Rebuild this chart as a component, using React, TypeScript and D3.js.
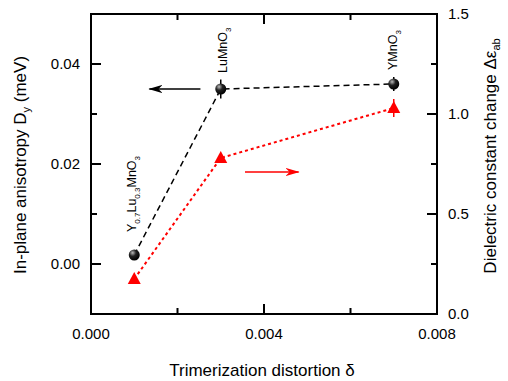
import React from "react";
import { scaleLinear, line } from "d3";

// data
const distortion = [0.001, 0.003, 0.007];
const anisotropy = [0.0018, 0.035, 0.036];
const anisotropyErr = [0, 0.0019, 0.0014];
const dielectric = [0.175, 0.78, 1.03];
const dielectricErr = [0, 0, 0.045];
const compounds = ["Y0.7Lu0.3MnO3", "LuMnO3", "YMnO3"];

const xTicks = [0, 0.004, 0.008];
const xMinor = [0.002, 0.006];
const yLeftTicks = [0, 0.02, 0.04];
const yLeftMinor = [-0.01, 0.01, 0.03, 0.05];
const yRightTicks = [0, 0.5, 1.0, 1.5];
const yRightMinor = [0.25, 0.75, 1.25];

const W = 508;
const H = 381;
const L = 91, R = 437, T = 14, B = 314;
const FONT = "Liberation Sans, Arial, sans-serif";

function Label({ name, x, y }) {
  // compound labels, rotated, with subscripts
  const parts = name.match(/[A-Za-z]+|[0-9.]+/g);
  return (
    <text transform={`translate(${x},${y}) rotate(-90)`} fontSize={12.5} fontFamily={FONT}>
      {parts.map((p, i) =>
        /[0-9]/.test(p) ? (
          <tspan key={i} fontSize={8} dy={4}>{p}</tspan>
        ) : (
          <tspan key={i} dy={i > 0 ? -4 : 0}>{p}</tspan>
        )
      )}
    </text>
  );
}

export default function App() {
  const x = scaleLinear().domain([0, 0.008]).range([L, R]);
  const yL = scaleLinear().domain([-0.01, 0.05]).range([B, T]);
  const yR = scaleLinear().domain([0, 1.5]).range([B, T]);

  const blackLine = line<number>().x((d, i) => x(distortion[i])).y(d => yL(d));
  const redLine = line<number>().x((d, i) => x(distortion[i])).y(d => yR(d));

  const tri = (cx, cy) => `M${cx},${cy - 7}L${cx + 6.5},${cy + 5}L${cx - 6.5},${cy + 5}Z`;

  const labelGap = [23, 16, 14];
  const labelShift = [2, 6, 3];

  return (
    <svg width={W} height={H} style={{ position: "absolute", left: 0, top: 0 }}>
      <defs>
        <radialGradient id="ball" cx="0.35" cy="0.3" r="0.7">
          <stop offset="0" stopColor="#bbb" />
          <stop offset="0.45" stopColor="#222" />
          <stop offset="1" stopColor="#000" />
        </radialGradient>
        <marker id="headK" viewBox="0 0 14 8" refX="13" refY="4" markerWidth="14" markerHeight="8" markerUnits="userSpaceOnUse" orient="auto">
          <path d="M14,4L0,0L4,4L0,8Z" fill="#000" />
        </marker>
        <marker id="headR" viewBox="0 0 14 8" refX="13" refY="4" markerWidth="14" markerHeight="8" markerUnits="userSpaceOnUse" orient="auto">
          <path d="M14,4L0,0L4,4L0,8Z" fill="#f00" />
        </marker>
      </defs>

      {/* lines */}
      <path d={blackLine(anisotropy)} fill="none" stroke="#000" strokeWidth={1.5} strokeDasharray="6,4" />
      <path d={redLine(dielectric)} fill="none" stroke="#f00" strokeWidth={2} strokeDasharray="3,3" />

      {/* error bars */}
      {anisotropy.map((v, i) =>
        anisotropyErr[i] > 0 ? (
          <line key={"ea" + i} x1={x(distortion[i])} x2={x(distortion[i])} y1={yL(v - anisotropyErr[i])} y2={yL(v + anisotropyErr[i])} stroke="#000" strokeWidth={1.5} />
        ) : null
      )}
      {dielectric.map((v, i) =>
        dielectricErr[i] > 0 ? (
          <line key={"ed" + i} x1={x(distortion[i])} x2={x(distortion[i])} y1={yR(v - dielectricErr[i])} y2={yR(v + dielectricErr[i])} stroke="#f00" strokeWidth={1.5} />
        ) : null
      )}

      {/* markers */}
      {anisotropy.map((v, i) => (
        <circle key={"c" + i} cx={x(distortion[i])} cy={yL(v)} r={5.5} fill="url(#ball)" />
      ))}
      {dielectric.map((v, i) => (
        <path key={"t" + i} d={tri(x(distortion[i]), yR(v))} fill="#f00" />
      ))}

      {/* arrows */}
      <line x1={x(0.00253)} x2={x(0.00135)} y1={yL(0.035)} y2={yL(0.035)} stroke="#000" strokeWidth={1.5} markerEnd="url(#headK)" />
      <line x1={x(0.00356)} x2={x(0.0048)} y1={yR(0.71)} y2={yR(0.71)} stroke="#f00" strokeWidth={1.5} markerEnd="url(#headR)" />

      {/* compound labels */}
      {compounds.map((c, i) => (
        <Label key={c} name={c} x={x(distortion[i]) + labelShift[i]} y={yL(anisotropy[i]) - labelGap[i]} />
      ))}

      {/* frame */}
      <rect x={L} y={T} width={R - L} height={B - T} fill="none" stroke="#000" strokeWidth={2} />

      {/* x ticks */}
      {xTicks.map(t => (
        <g key={"x" + t}>
          <line x1={x(t)} x2={x(t)} y1={B} y2={B - 10} stroke="#000" strokeWidth={2} />
          <line x1={x(t)} x2={x(t)} y1={T} y2={T + 10} stroke="#000" strokeWidth={2} />
          <text x={x(t)} y={339} textAnchor="middle" fontSize={15} fontFamily={FONT}>{t.toFixed(3)}</text>
        </g>
      ))}
      {xMinor.map(t => (
        <g key={"xm" + t}>
          <line x1={x(t)} x2={x(t)} y1={B} y2={B - 6} stroke="#000" strokeWidth={2} />
          <line x1={x(t)} x2={x(t)} y1={T} y2={T + 6} stroke="#000" strokeWidth={2} />
        </g>
      ))}

      {/* left ticks */}
      {yLeftTicks.map(t => (
        <g key={"l" + t}>
          <line x1={L} x2={L + 10} y1={yL(t)} y2={yL(t)} stroke="#000" strokeWidth={2} />
          <text x={80} y={yL(t) + 5} textAnchor="end" fontSize={15} fontFamily={FONT}>{t.toFixed(2)}</text>
        </g>
      ))}
      {yLeftMinor.map(t => (
        <line key={"lm" + t} x1={L} x2={L + 6} y1={yL(t)} y2={yL(t)} stroke="#000" strokeWidth={2} />
      ))}

      {/* right ticks */}
      {yRightTicks.map(t => (
        <g key={"r" + t}>
          <line x1={R} x2={R - 10} y1={yR(t)} y2={yR(t)} stroke="#000" strokeWidth={2} />
          <text x={448} y={yR(t) + 5} textAnchor="start" fontSize={15} fontFamily={FONT}>{t.toFixed(1)}</text>
        </g>
      ))}
      {yRightMinor.map(t => (
        <line key={"rm" + t} x1={R} x2={R - 6} y1={yR(t)} y2={yR(t)} stroke="#000" strokeWidth={2} />
      ))}

      {/* axis titles */}
      <text x={262} y={376} textAnchor="middle" fontSize={17} fontFamily={FONT}>Trimerization distortion δ</text>
      <text transform={`translate(26,165) rotate(-90)`} textAnchor="middle" fontSize={17} fontFamily={FONT}>
        In-plane anisotropy D<tspan fontSize={11} dy={4}>y</tspan><tspan dy={-4}> (meV)</tspan>
      </text>
      <text transform={`translate(496,156) rotate(-90)`} textAnchor="middle" fontSize={17} fontFamily={FONT}>
        Dielectric constant change Δε<tspan fontSize={11} dy={4}>ab</tspan>
      </text>
    </svg>
  );
}
